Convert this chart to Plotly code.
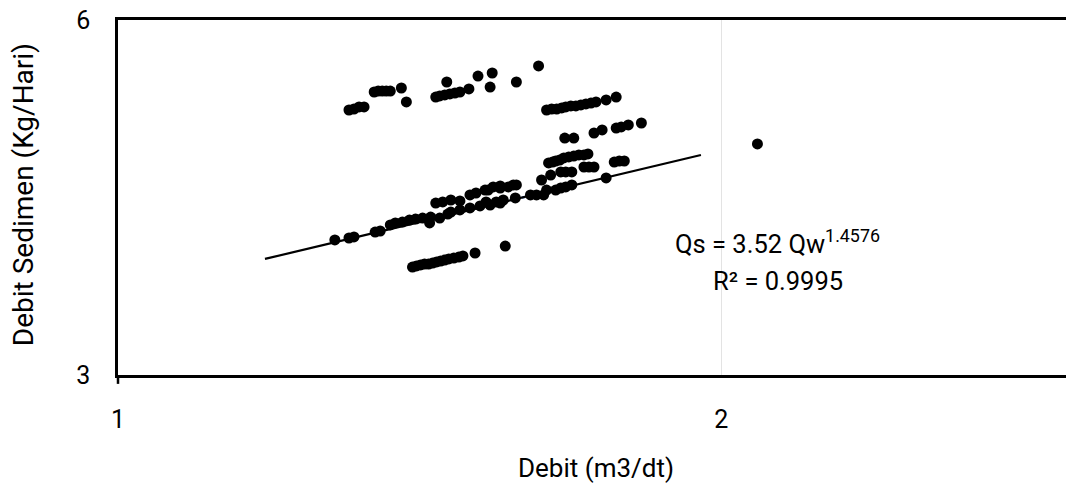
import plotly.graph_objects as go

debit = [
    1.3040, 1.3115, 1.3192, 1.3268, 1.3423, 1.3485, 1.3548, 1.3611, 1.3674, 1.3849, 1.3929,
    1.4407, 1.4473, 1.4557, 1.4642, 1.4727, 1.4813, 1.4591, 1.4967, 1.5124, 1.5336, 1.5373,
    1.5806, 1.6214,
    1.6364, 1.6459, 1.6555, 1.6651, 1.6729, 1.6826, 1.6924, 1.7022, 1.7121, 1.7221, 1.7321,
    1.7523, 1.7727,
    1.6710, 1.6884, 1.7281, 1.7443, 1.7727, 1.7830, 1.7976, 1.8248,
    1.6402, 1.6478, 1.6536, 1.6613, 1.6691, 1.6787, 1.6884, 1.6982, 1.7082, 1.7161,
    1.7082, 1.7181, 1.7281, 1.6633, 1.6729, 1.6846, 1.6270, 1.6441, 1.7687, 1.7790, 1.7893,
    1.7523, 1.6536, 1.6633, 1.6729, 1.6846, 1.6064, 1.6176, 1.6309, 1.5787, 1.5569, 1.5444,
    1.5265, 1.5751, 1.5515, 1.5301, 1.6364,
    1.2830, 1.3040, 1.3115, 1.3438, 1.3516, 1.3674, 1.3753, 1.3865, 1.3978, 1.4076, 1.4191,
    1.4323, 1.4306, 1.4473, 1.4608, 1.4659, 1.4813, 1.4985, 1.5159, 1.5336, 1.5515,
    1.4407, 1.4523, 1.4659, 1.4813, 1.4985, 1.5089, 1.5247, 1.5390, 1.5515, 1.5660, 1.5806,
    1.4027, 1.4092, 1.4158, 1.4223, 1.4289, 1.4356, 1.4422, 1.4489, 1.4557, 1.4625, 1.4710,
    1.4795, 1.4864, 1.5073, 1.5605,
    2.0851,
]
sedimen = [
    5.033, 5.043, 5.063, 5.063, 5.213, 5.223, 5.223, 5.223, 5.223, 5.254, 5.113,
    5.162, 5.173, 5.183, 5.193, 5.203, 5.213, 5.316, 5.244, 5.378, 5.264, 5.410,
    5.316, 5.485,
    5.033, 5.043, 5.043, 5.053, 5.063, 5.073, 5.073, 5.083, 5.093, 5.102, 5.113,
    5.133, 5.162,
    4.765, 4.765, 4.812, 4.841, 4.859, 4.869, 4.888, 4.907,
    4.539, 4.547, 4.556, 4.565, 4.583, 4.592, 4.600, 4.610, 4.610, 4.619,
    4.503, 4.503, 4.503, 4.460, 4.460, 4.460, 4.390, 4.433, 4.547, 4.556, 4.556,
    4.408, 4.305, 4.322, 4.331, 4.348, 4.264, 4.264, 4.264, 4.239, 4.222, 4.206,
    4.206, 4.348, 4.322, 4.305, 4.305,
    3.905, 3.920, 3.928, 3.966, 3.974, 4.021, 4.037, 4.044, 4.060, 4.068, 4.076,
    4.084, 4.037, 4.076, 4.108, 4.124, 4.141, 4.157, 4.173, 4.181, 4.197,
    4.197, 4.206, 4.222, 4.214, 4.264, 4.280, 4.305, 4.331, 4.339, 4.331, 4.348,
    3.704, 3.712, 3.719, 3.726, 3.726, 3.733, 3.741, 3.748, 3.755, 3.763, 3.770,
    3.777, 3.785, 3.807, 3.859,
    4.710,
]

# Trend lines (endpoints as drawn)
trend_x = [1.184, 1.954]
trend_y = [3.763, 4.610]
excel_trend_x = [1.371, 1.640]
excel_trend_y = [4.021, 4.289]

x_ticks = [1, 2, 3]
y_ticks = [3, 6]
equation_text = "Qs = 3.52 Qw<sup>1.4576</sup>"
r2_text = "R² = 0.9995"

FONT = "Roboto, sans-serif"

fig = go.Figure()
fig.add_trace(go.Scatter(x=excel_trend_x, y=excel_trend_y, mode="lines",
                         line=dict(color="#4472C4", width=2.5, dash="dot"),
                         showlegend=False, hoverinfo="skip"))
fig.add_trace(go.Scatter(x=debit, y=sedimen, mode="markers",
                         marker=dict(color="black", size=11, line=dict(width=0)),
                         showlegend=False))
fig.add_trace(go.Scatter(x=trend_x, y=trend_y, mode="lines",
                         line=dict(color="black", width=2.2),
                         showlegend=False, hoverinfo="skip"))

fig.update_layout(
    width=1066, height=480,
    margin=dict(l=110, r=0, t=12, b=113),
    paper_bgcolor="white", plot_bgcolor="white",
    font=dict(family=FONT, color="black", size=23),
    xaxis=dict(type="log", range=[0, 0.47712], tickvals=x_ticks,
               ticktext=[str(v) for v in x_ticks],
               showgrid=True, gridcolor="#e3e3e3", gridwidth=1,
               showline=True, linecolor="black", linewidth=2.5, mirror=True,
               ticks="", ticklabelstandoff=20, zeroline=False,
               ticklabeloverflow="allow",
               tickfont=dict(size=25, family=FONT), automargin=False),
    yaxis=dict(type="log", range=[0.47712, 0.77815], tickvals=y_ticks,
               ticktext=[str(v) for v in y_ticks],
               showgrid=False,
               showline=True, linecolor="black", linewidth=2.5, mirror=True,
               ticks="", ticklabelstandoff=20, zeroline=False,
               ticklabeloverflow="allow",
               tickfont=dict(size=25, family=FONT), automargin=False),
    shapes=[dict(type="line", xref="paper", yref="paper", x0=0, x1=0, y0=0, y1=-0.025,
                 line=dict(color="black", width=2.5))],
    annotations=[
        dict(text="Debit (m3/dt)", xref="paper", yref="paper", x=0.5, y=-0.262,
             showarrow=False, xanchor="center", yanchor="middle",
             font=dict(size=26, family=FONT)),
        dict(text="Debit Sedimen (Kg/Hari)", xref="paper", yref="paper", x=-0.0992, y=0.507,
             showarrow=False, xanchor="center", yanchor="middle", textangle=-90,
             font=dict(size=28, family=FONT)),
        dict(text=equation_text, xref="paper", yref="paper", x=0.690, y=0.375,
             showarrow=False, xanchor="center", yanchor="middle",
             font=dict(size=25.5, family=FONT)),
        dict(text=r2_text, xref="paper", yref="paper", x=0.690, y=0.265,
             showarrow=False, xanchor="center", yanchor="middle",
             font=dict(size=25.5, family=FONT)),
    ],
)

fig.write_html("out.html")
